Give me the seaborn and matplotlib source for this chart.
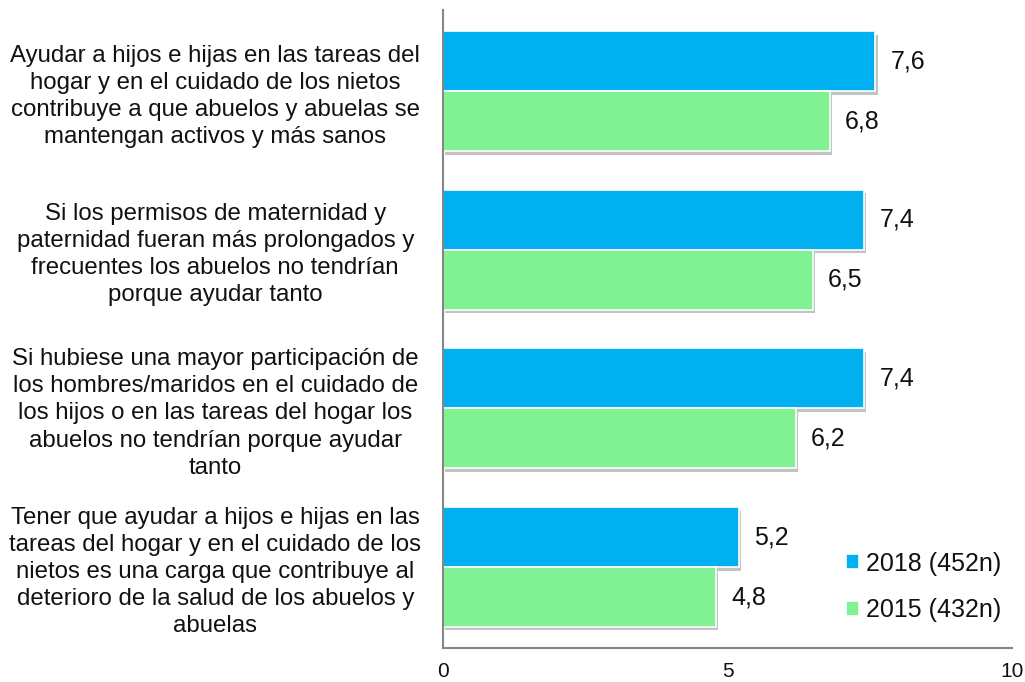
import numpy as np
import pandas as pd
import matplotlib
matplotlib.use("Agg")
import matplotlib.pyplot as plt
import matplotlib.patheffects as pe
import seaborn as sns

# Data
# -------------------------------
statements = [
    "Ayudar a hijos e hijas en las tareas del\nhogar y en el cuidado de los nietos\ncontribuye a que abuelos y abuelas se\nmantengan activos y más sanos",
    "Si los permisos de maternidad y\npaternidad fueran más prolongados y\nfrecuentes los abuelos no tendrían\nporque ayudar tanto",
    "Si hubiese una mayor participación de\nlos hombres/maridos en el cuidado de\nlos hijos o en las tareas del hogar los\nabuelos no tendrían porque ayudar\ntanto",
    "Tener que ayudar a hijos e hijas en las\ntareas del hogar y en el cuidado de los\nnietos es una carga que contribuye al\ndeterioro de la salud de los abuelos y\nabuelas",
]
series = ["2018 (452n)", "2015 (432n)"]
values_2018 = [7.6, 7.4, 7.4, 5.2]
values_2015 = [6.8, 6.5, 6.2, 4.8]
x_ticks = [0, 5, 10]

df = pd.DataFrame({
    "statement": statements * 2,
    "year": [series[0]] * 4 + [series[1]] * 4,
    "score": values_2018 + values_2015,
})

# Plot
# -------------------------------
sns.set_theme(style="white")
plt.rcParams["font.family"] = ["Liberation Sans", "DejaVu Sans"]
txt = "#111111"

fig = plt.figure(figsize=(10.25, 6.82), dpi=100)
ax = fig.add_axes([0.4322, 0.0499, 0.5551, 0.9351])

palette = {series[0]: "#00B0F0", series[1]: "#80F294"}
sns.barplot(data=df, y="statement", x="score", hue="year", hue_order=series,
            order=statements, palette=palette, orient="h", width=0.756,
            edgecolor="white", linewidth=1.2, saturation=1, ax=ax)

shadow = [pe.SimplePatchShadow(offset=(1.5, -2.5), shadow_rgbFace="#888888", alpha=0.5),
          pe.Normal()]
for cont in ax.containers:
    for bar in cont:
        bar.set_path_effects(shadow)
    ax.bar_label(cont, fmt=lambda v: f"{v:.1f}".replace(".", ","),
                 padding=11, fontsize=18, color=txt)

ax.set_xlim(0, 10)
ax.set_ylim(3.51, -0.51)
ax.set_xticks(x_ticks)
ax.set_xticklabels([str(t) for t in x_ticks], fontsize=15, color=txt)
ax.set_yticks(range(len(statements)))
ax.set_yticklabels(statements, fontsize=17.3, ha="center", multialignment="center",
                   linespacing=1.3, color=txt)
ax.tick_params(axis="y", length=0, pad=164)
ax.tick_params(axis="x", direction="inout", length=8, color="#868686", pad=6)
ax.set_xlabel("")
ax.set_ylabel("")

for side in ["top", "right"]:
    ax.spines[side].set_visible(False)
for side in ["left", "bottom"]:
    ax.spines[side].set_color("#868686")
    ax.spines[side].set_linewidth(1.5)

handles, labels = ax.get_legend_handles_labels()
leg = ax.legend(handles, labels, loc="lower right", bbox_to_anchor=(1.02, 0.005),
                frameon=False, fontsize=18, handlelength=0.55, handleheight=0.55,
                handletextpad=0.25, labelspacing=0.9)
for t in leg.get_texts():
    t.set_color(txt)

plt.savefig("out.png", dpi=100)
